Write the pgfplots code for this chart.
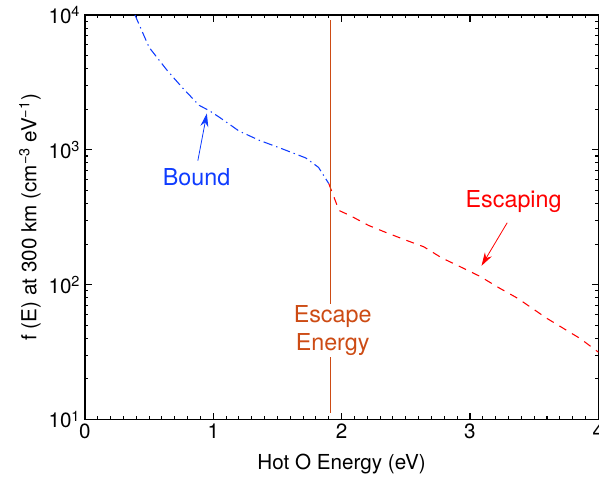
\documentclass[border=0pt]{standalone}
\usepackage{fontspec}
\setmainfont{TeX Gyre Heros}
\usepackage{pgfplots}
\pgfplotsset{compat=1.18}
\usetikzlibrary{arrows.meta}

\definecolor{bndblue}{RGB}{15,60,255}
\definecolor{escred}{RGB}{255,0,0}
\definecolor{escorange}{RGB}{205,75,20}

\begin{document}
\begin{tikzpicture}
\begin{axis}[
  scale only axis,
  width=385.5pt, height=303.75pt,
  ymode=log,
  xmin=0, xmax=4, ymin=10, ymax=10000,
  xtick={0,1,2,3,4}, xticklabels={0,1,2,3,4},
  minor x tick num=9,
  ytick={10,100,1000,10000},
  yticklabels={10\textsuperscript{1},10\textsuperscript{2},10\textsuperscript{3},10\textsuperscript{4}},
  tick align=inside,
  major tick length=5pt, minor tick length=2.5pt,
  axis line style={line width=1.1pt},
  every tick/.style={black, line width=0.8pt},
  font=\fontsize{15.5}{18}\selectfont,
  xlabel={Hot O Energy (eV)},
  ylabel={f (E) at 300 km (cm\textsuperscript{\textminus 3} eV\textsuperscript{\textminus 1})},
  xlabel style={at={(axis description cs:0.5,-0.111)}, anchor=center},
  ylabel style={at={(axis description cs:-0.107,0.5)}, anchor=center},
  clip=true,
]
% bound population
\addplot[bndblue, line width=0.8pt, dash pattern=on 7pt off 3pt on 1pt off 3pt] coordinates {
(0.39,10000) (0.50,5754) (0.64,3890) (0.76,2884) (0.89,2138) (0.97,1950)
(1.05,1738) (1.20,1380) (1.36,1175) (1.53,1023) (1.72,871) (1.82,741) (1.90,562)
};
% escaping population
\addplot[escred, line width=0.8pt, dash pattern=on 6pt off 5pt] coordinates {
(1.90,562) (1.98,355) (2.07,324) (2.21,275) (2.34,245) (2.50,214) (2.64,191)
(2.78,158) (2.93,135) (3.08,115) (3.22,95.5) (3.37,79.4) (3.60,56.2) (3.86,39.8) (4.00,31.6)
};
% escape energy
\addplot[escorange, line width=0.8pt] coordinates {(1.91,11.2) (1.91,9200)};

\node[fill=white, text=escorange, align=center, inner sep=1pt, font=\fontsize{17.5}{21}\selectfont] at (axis cs:1.93,45.6) {Escape\\Energy};
\node[text=bndblue, font=\fontsize{17.5}{21}\selectfont] at (axis cs:0.87,631) {Bound};
\draw[bndblue, line width=0.6pt, -{Stealth[length=10pt,width=6pt]}] (axis cs:0.88,832) -- (axis cs:0.95,1862);
\node[text=escred, font=\fontsize{17.5}{21}\selectfont] at (axis cs:3.34,417) {Escaping};
\draw[escred, line width=0.6pt, -{Stealth[length=10pt,width=6pt]}] (axis cs:3.29,288) -- (axis cs:3.09,138);
\end{axis}
\pgfresetboundingbox
\path[use as bounding box] (-63.75pt,-43.5pt) rectangle (386pt,315pt);
\end{tikzpicture}
\end{document}
